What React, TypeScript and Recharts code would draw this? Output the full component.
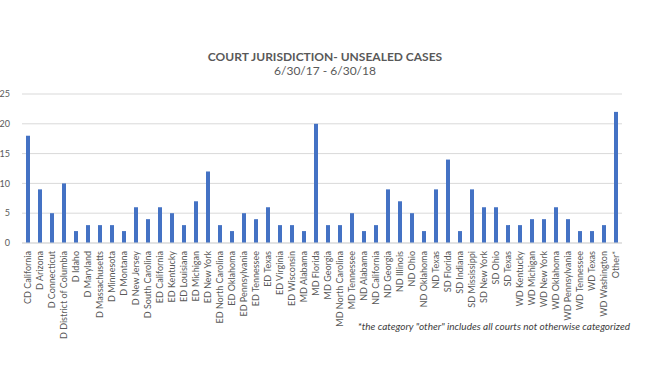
import { BarChart, Bar, XAxis, YAxis, CartesianGrid } from 'recharts';

const courts = [
  'CD California', 'D Arizona', 'D Connecticut', 'D District of Columbia', 'D Idaho',
  'D Maryland', 'D Massachusetts', 'D Minnesota', 'D Montana', 'D New Jersey',
  'D South Carolina', 'ED California', 'ED Kentucky', 'ED Louisiana', 'ED Michigan',
  'ED New York', 'ED North Carolina', 'ED Oklahoma', 'ED Pennsylvania', 'ED Tennessee',
  'ED Texas', 'ED Virginia', 'ED Wisconsin', 'MD Alabama', 'MD Florida',
  'MD Georgia', 'MD North Carolina', 'MD Tennessee', 'ND Alabama', 'ND California',
  'ND Georgia', 'ND Illinois', 'ND Ohio', 'ND Oklahoma', 'ND Texas',
  'SD Florida', 'SD Indiana', 'SD Mississippi', 'SD New York', 'SD Ohio',
  'SD Texas', 'WD Kentucky', 'WD Michigan', 'WD New York', 'WD Oklahoma',
  'WD Pennsylvania', 'WD Tennessee', 'WD Texas', 'WD Washington', 'Other*',
];

const cases = [
  18, 9, 5, 10, 2,
  3, 3, 3, 2, 6,
  4, 6, 5, 3, 7,
  12, 3, 2, 5, 4,
  6, 3, 3, 2, 20,
  3, 3, 5, 2, 3,
  9, 7, 5, 2, 9,
  14, 2, 9, 6, 6,
  3, 3, 4, 4, 6,
  4, 2, 2, 3, 22,
];

const yTicks = [0, 5, 10, 15, 20, 25];

const data = courts.map((court, i) => ({ court, cases: cases[i] }));

const FONT = 'Lato, "Open Sans", sans-serif';

const CourtTick = ({ x, y, payload }: any) => (
  <text
    x={x}
    y={y}
    transform={`rotate(-90 ${x} ${y})`}
    textAnchor="end"
    dy={3}
    fontSize={9}
    fill="#595959"
    fontFamily={FONT}
  >
    {payload.value}
  </text>
);

export default function App() {
  return (
    <div style={{ position: 'absolute', left: 0, top: 0, width: 650, height: 387, background: '#fff', fontFamily: FONT }}>
      <div style={{ position: 'absolute', top: 50, left: 0, width: 650, textAlign: 'center', color: '#595959', fontSize: 12, fontWeight: 700, lineHeight: '14px' }}>
        COURT JURISDICTION- UNSEALED CASES
      </div>
      <div style={{ position: 'absolute', top: 64, left: 0, width: 650, textAlign: 'center', color: '#595959', fontSize: 12, lineHeight: '14px' }}>
        6/30/17 - 6/30/18
      </div>
      <BarChart
        width={650}
        height={387}
        data={data}
        margin={{ top: 94, right: 28, left: 0, bottom: 0 }}
        barCategoryGap={0}
      >
        <CartesianGrid vertical={false} stroke="#d9d9d9" />
        <XAxis
          dataKey="court"
          interval={0}
          height={144}
          tick={<CourtTick />}
          tickLine={false}
          axisLine={{ stroke: '#d9d9d9' }}
          tickMargin={2}
        />
        <YAxis
          width={22}
          domain={[0, 25]}
          ticks={yTicks}
          axisLine={false}
          tickLine={false}
          tick={{ fontSize: 9, fill: '#595959', fontFamily: FONT }}
          tickMargin={6}
        />
        <Bar dataKey="cases" fill="#4472c4" barSize={4} isAnimationActive={false} />
      </BarChart>
      <div style={{ position: 'absolute', top: 320, right: 20, color: '#404040', fontSize: 10, fontStyle: 'italic' }}>
        *the category "other" includes all courts not otherwise categorized
      </div>
    </div>
  );
}
